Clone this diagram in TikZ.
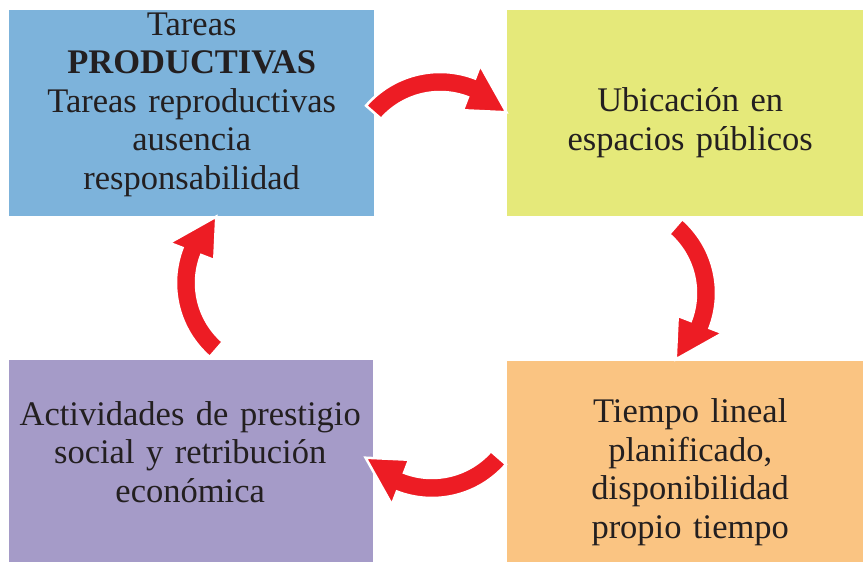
\documentclass[tikz,border=0pt]{standalone}
\usepackage{fontspec}
\setmainfont{Liberation Serif}
\usepackage{tikz}
\usetikzlibrary{calc}
\definecolor{B}{RGB}{125,179,219}
\definecolor{Y}{RGB}{229,233,122}
\definecolor{P}{RGB}{165,155,200}
\definecolor{O}{RGB}{250,196,130}
\definecolor{R}{RGB}{237,28,36}
\definecolor{T}{RGB}{35,31,32}
\tikzset{
  box/.style={fill=#1, draw=none, inner sep=0pt, anchor=south west},
  boxtext/.style={text=T, inner sep=0pt, text width=360pt, align=center,
    font=\fontsize{34.5}{38.5}\selectfont}
}
% curved arrow round a centre, #2 is the direction of its bulge
\newcommand{\cyclearrow}[2]{
  \filldraw[R, draw=white, line width=2.5pt, line join=miter]
    ($(#1)+(#2+49:98)$) arc[start angle=#2+49, end angle=#2-21, radius=98]
    -- ($(#1)+(#2-21:112)$) -- ($(#1)+(#2-49:88)$) -- ($(#1)+(#2-21:64)$)
    -- ($(#1)+(#2-21:78)$) arc[start angle=#2-21, end angle=#2+49, radius=78] -- cycle;
}

\begin{document}
\begin{tikzpicture}[x=1pt,y=1pt]
\useasboundingbox (0,0) rectangle (863,562);
\node[box=B, minimum width=365pt, minimum height=206pt] (productivas) at (9,346) {};
\node[box=Y, minimum width=356pt, minimum height=206pt] (ubicacion) at (507,346) {};
\node[box=P, minimum width=364pt, minimum height=202pt] (actividades) at (9,0) {};
\node[box=O, minimum width=356pt, minimum height=201pt] (tiempo) at (507,0) {};
\node[boxtext] (productivas-txt) at ([yshift=8pt]productivas.center)
  {Tareas\\ \textbf{PRODUCTIVAS}\\ Tareas reproductivas\\ ausencia\\ responsabilidad};
\node[boxtext] (ubicacion-txt) at ([xshift=5pt,yshift=-10pt]ubicacion.center)
  {Ubicación en\\ espacios públicos};
\node[boxtext] (actividades-txt) at ([xshift=-1pt,yshift=9pt]actividades.center)
  {Actividades de prestigio\\ social y retribución\\ económica};
\node[boxtext] (tiempo-txt) at ([xshift=5pt,yshift=-11pt]tiempo.center)
  {Tiempo lineal\\ planificado,\\ disponibilidad\\ propio tiempo};
\coordinate (c-top) at (440,392);
\coordinate (c-right) at (618,269);
\coordinate (c-bottom) at (432,162);
\coordinate (c-left) at (274,279);
\cyclearrow{c-top}{90}
\cyclearrow{c-right}{0}
\cyclearrow{c-bottom}{-90}
\cyclearrow{c-left}{180}
\end{tikzpicture}
\end{document}
